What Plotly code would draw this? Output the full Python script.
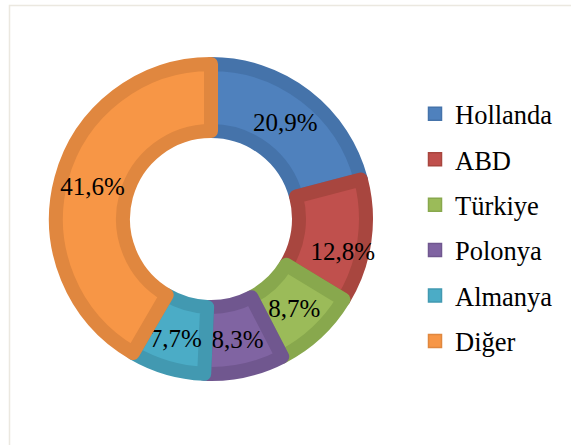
import plotly.graph_objects as go

categories = ["Hollanda", "ABD", "Türkiye", "Polonya", "Almanya", "Diğer"]
shares = [20.9, 12.8, 8.7, 8.3, 7.7, 41.6]
fill_colors = ["#4f81bd", "#c0504d", "#9bbb59", "#8064a2", "#4bacc6", "#f79646"]
edge_colors = ["#4573aa", "#a8463f", "#88a84d", "#70578f", "#4299b1", "#e0873f"]
label_templates = ["%{value:.1f}%", " <br> <br>%{value:.1f}%", "%{value:.1f}%", "%{value:.1f}%",
                   "%{value:.1f}%", "%{value:.1f}%<br> <br> "]

W, H = 571, 445
cx, cy, r_out, r_in = 211, 219, 155, 88

fig = go.Figure()
fig.add_trace(go.Pie(
    labels=categories, values=shares, sort=False, direction="clockwise", rotation=0,
    hole=r_in / r_out,
    marker=dict(colors=fill_colors, line=dict(color=edge_colors, width=14)),
    texttemplate=label_templates, textposition="inside", insidetextorientation="horizontal",
    textfont=dict(family="Liberation Serif", size=25, color="black"),
    domain=dict(x=[(cx - r_out) / W, (cx + r_out) / W], y=[(H - cy - r_out) / H, (H - cy + r_out) / H]),
    showlegend=False, hoverinfo="label+value",
))
for i, name in enumerate(categories):
    fig.add_trace(go.Scatter(
        x=[None], y=[None], mode="markers", name=name, legendgroup=name,
        marker=dict(symbol="square", size=13, color=fill_colors[i], line=dict(color=edge_colors[i], width=1.5)),
    ))

fig.update_layout(
    width=W, height=H, margin=dict(l=0, r=0, t=0, b=0),
    paper_bgcolor="white", plot_bgcolor="white",
    separators=",.",
    uniformtext=dict(minsize=25, mode="show"),
    xaxis=dict(visible=False), yaxis=dict(visible=False),
    legend=dict(x=415 / W, y=(H - 90) / H, xanchor="left", yanchor="top",
                font=dict(family="Liberation Serif", size=26.5, color="black"),
                tracegroupgap=8, bgcolor="rgba(0,0,0,0)"),
    shapes=[dict(type="rect", xref="paper", yref="paper",
                 x0=9.5 / W, x1=1.05, y0=-0.05, y1=(H - 5.5) / H,
                 line=dict(color="#ebe8e0", width=1.5), fillcolor="rgba(0,0,0,0)", layer="below")],
)
fig.write_html("out.html", config={"displayModeBar": False},
               post_script="document.body.style.margin='0';")
